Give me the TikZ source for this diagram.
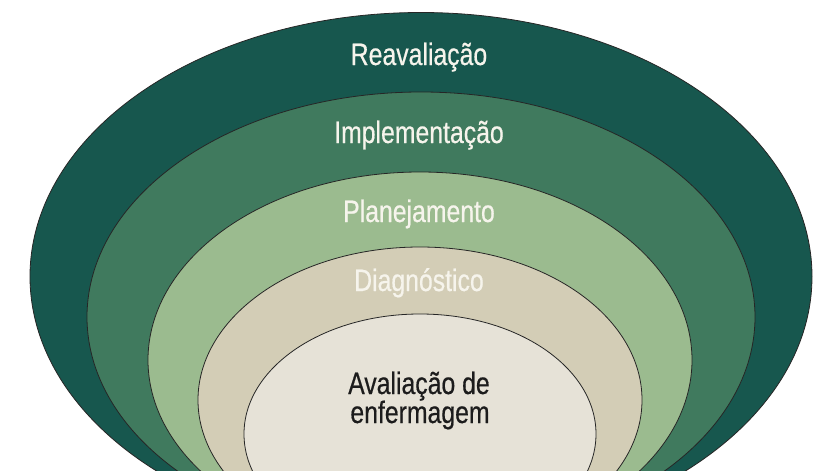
\documentclass[tikz,border=0pt]{standalone}
\usepackage{fontspec}
\newfontfamily\lblfont[FakeStretch=0.8,BoldFont={Liberation Sans},BoldFeatures={FakeBold=0.5}]{Liberation Sans}
\definecolor{cA}{RGB}{23,87,78}
\definecolor{cB}{RGB}{64,122,94}
\definecolor{cC}{RGB}{155,187,143}
\definecolor{cD}{RGB}{211,205,182}
\definecolor{cE}{RGB}{230,226,215}
\definecolor{txtlight}{RGB}{246,244,236}
\definecolor{txtdark}{RGB}{28,28,28}
\tikzset{
  ring/.style={draw=black!85, line width=0.8pt},
  lbl/.style={anchor=base, inner sep=0pt, font=\lblfont\bfseries\fontsize{31}{30}\selectfont, text=txtlight},
}
\begin{document}
\begin{tikzpicture}[x=1pt,y=-1pt]
\useasboundingbox (0,0) rectangle (839,471);
\fill[white] (0,0) rectangle (839,471);
\clip (0,0) rectangle (839,471);
\draw[ring, fill=cA] (421,276.5) ellipse [x radius=391, y radius=264];
\draw[ring, fill=cB] (421,317) ellipse [x radius=334, y radius=225];
\draw[ring, fill=cC] (420,360) ellipse [x radius=272, y radius=188];
\draw[ring, fill=cD] (420,400) ellipse [x radius=222, y radius=153];
\draw[ring, fill=cE] (420,434) ellipse [x radius=176, y radius=120];
\node[lbl] (reav) at (419,65) {Reavaliação};
\node[lbl] (impl) at (419,143) {Implementação};
\node[lbl] (plan) at (419,222) {Planejamento};
\node[lbl] (diag) at (419,291) {Diagnóstico};
\node[lbl, text=txtdark] (aval1) at (419,394) {Avaliação de};
\node[lbl, text=txtdark] (aval2) at (420,423) {enfermagem};
\end{tikzpicture}
\end{document}
